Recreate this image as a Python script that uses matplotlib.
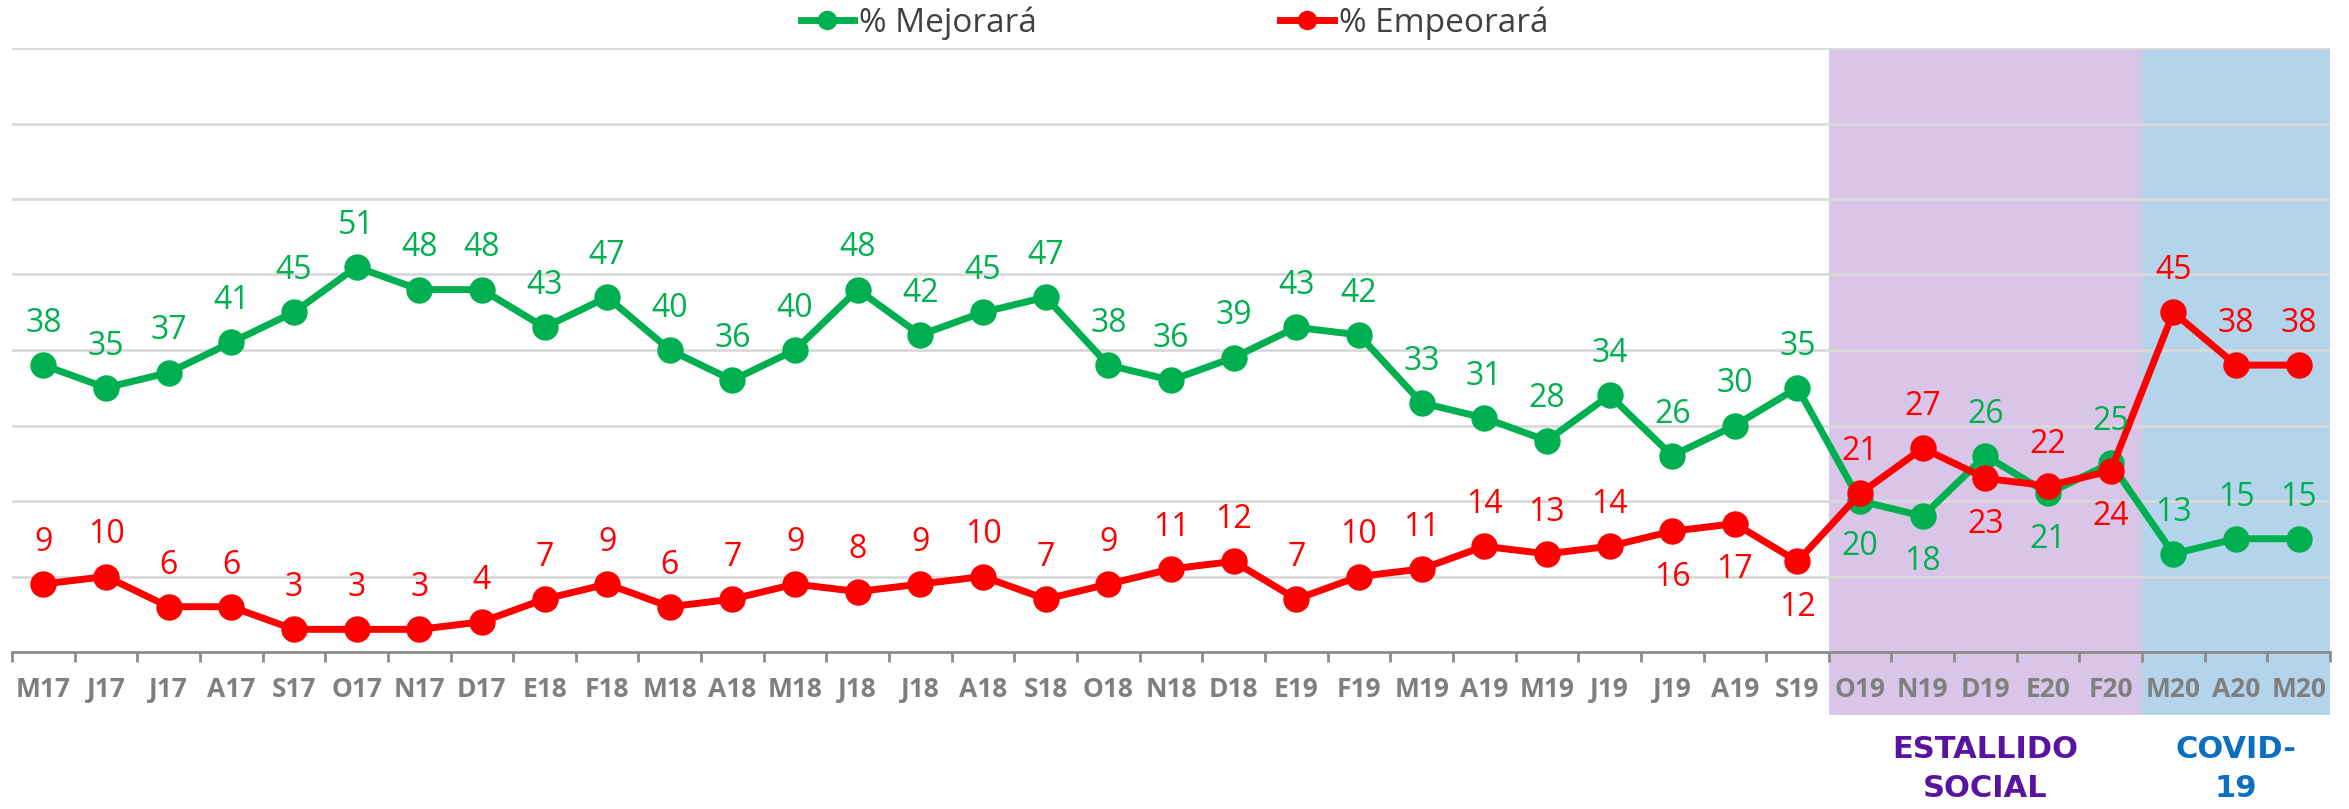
import matplotlib
matplotlib.use('Agg')
import matplotlib.pyplot as plt
from matplotlib.lines import Line2D
from matplotlib.patches import Rectangle
import matplotlib.transforms as mtransforms

plt.rcParams['font.family'] = ['Open Sans', 'DejaVu Sans']

meses = ['M17', 'J17', 'J17', 'A17', 'S17', 'O17', 'N17', 'D17',
         'E18', 'F18', 'M18', 'A18', 'M18', 'J18', 'J18', 'A18', 'S18', 'O18', 'N18', 'D18',
         'E19', 'F19', 'M19', 'A19', 'M19', 'J19', 'J19', 'A19', 'S19', 'O19', 'N19', 'D19',
         'E20', 'F20', 'M20', 'A20', 'M20']

mejorara = [38, 35, 37, 41, 45, 51, 48, 48,
            43, 47, 40, 36, 40, 48, 42, 45, 47, 38, 36, 39,
            43, 42, 33, 31, 28, 34, 26, 30, 35, 20, 18, 26,
            21, 25, 13, 15, 15]

empeorara = [9, 10, 6, 6, 3, 3, 3, 4,
             7, 9, 6, 7, 9, 8, 9, 10, 7, 9, 11, 12,
             7, 10, 11, 14, 13, 14, 16, 17, 12, 21, 27, 23,
             22, 24, 45, 38, 38]

# indices where the label goes under the point
abajo_verde = [29, 30, 32]
abajo_rojo = [26, 27, 28, 31, 33]

verde = '#00B050'
rojo = '#FF0000'

fig = plt.figure(figsize=(23.49, 8.09), dpi=100)
ax = fig.add_axes([12/2349, 1 - 652/809, (2330 - 12)/2349, (652 - 48)/809])

x = list(range(len(meses)))

ax.plot(x, mejorara, color=verde, lw=5, marker='o', markersize=18, zorder=3)
ax.plot(x, empeorara, color=rojo, lw=5, marker='o', markersize=18, zorder=4)

for i, v in enumerate(mejorara):
    dy = -33 if i in abajo_verde else 30
    ax.annotate(str(v), (i, v), xytext=(0, dy), textcoords='offset points',
                ha='center', va='center', fontsize=23, color=verde, zorder=5)
for i, v in enumerate(empeorara):
    dy = -33 if i in abajo_rojo else 30
    ax.annotate(str(v), (i, v), xytext=(0, dy), textcoords='offset points',
                ha='center', va='center', fontsize=23, color=rojo, zorder=5)

# shaded periods, reaching down below the tick labels
trans = mtransforms.blended_transform_factory(ax.transData, ax.transAxes)
ax.add_patch(Rectangle((28.5, -0.105), 5, 1.105, transform=trans, clip_on=False,
                       facecolor='#D8C5E7', edgecolor='none', zorder=0.2))
ax.add_patch(Rectangle((33.5, -0.105), 3, 1.105, transform=trans, clip_on=False,
                       facecolor='#B4D4EC', edgecolor='none', zorder=0.2))

ax.set_xlim(-0.5, len(meses) - 0.5)
ax.set_ylim(0, 80)
ax.set_yticks(range(10, 81, 10))
ax.yaxis.grid(True, color='#D9D9D9', lw=2)
ax.set_axisbelow(True)
ax.tick_params(axis='y', left=False, labelleft=False)

ax.set_xticks(x)
ax.set_xticklabels(meses)
ax.set_xticks([i - 0.5 for i in range(len(meses) + 1)], minor=True)
ax.tick_params(axis='x', which='major', length=0, pad=17, labelsize=19, labelcolor='#7F7F7F')
ax.tick_params(axis='x', which='minor', length=7, width=2, color='#8C8C8C')
for lbl in ax.get_xticklabels():
    lbl.set_fontweight('bold')

for s in ['top', 'right', 'left']:
    ax.spines[s].set_visible(False)
ax.spines['bottom'].set_color('#8C8C8C')
ax.spines['bottom'].set_linewidth(2)

ftrans = mtransforms.blended_transform_factory(ax.transData, fig.transFigure)
ax.text(31, 1 - 769/809, 'ESTALLIDO\nSOCIAL', transform=ftrans, ha='center', va='center',
        fontsize=22, fontweight='bold', color='#5A13A0', family='DejaVu Sans', linespacing=1.45)
ax.text(35, 1 - 769/809, 'COVID-\n19', transform=ftrans, ha='center', va='center',
        fontsize=22, fontweight='bold', color='#0A6FC2', family='DejaVu Sans', linespacing=1.45)

handles = [Line2D([], [], color=verde, lw=5, marker='o', markersize=13),
           Line2D([], [], color=rojo, lw=5, marker='o', markersize=13)]
leg = fig.legend(handles, ['% Mejorará', '% Empeorará'], loc='center',
                 bbox_to_anchor=(0.5, 1 - 23/809), ncol=2, frameon=False, fontsize=24,
                 handlelength=1.6, handletextpad=0.15, columnspacing=7.3)
for t in leg.get_texts():
    t.set_color('#404040')

fig.savefig('out.png', dpi=100)
